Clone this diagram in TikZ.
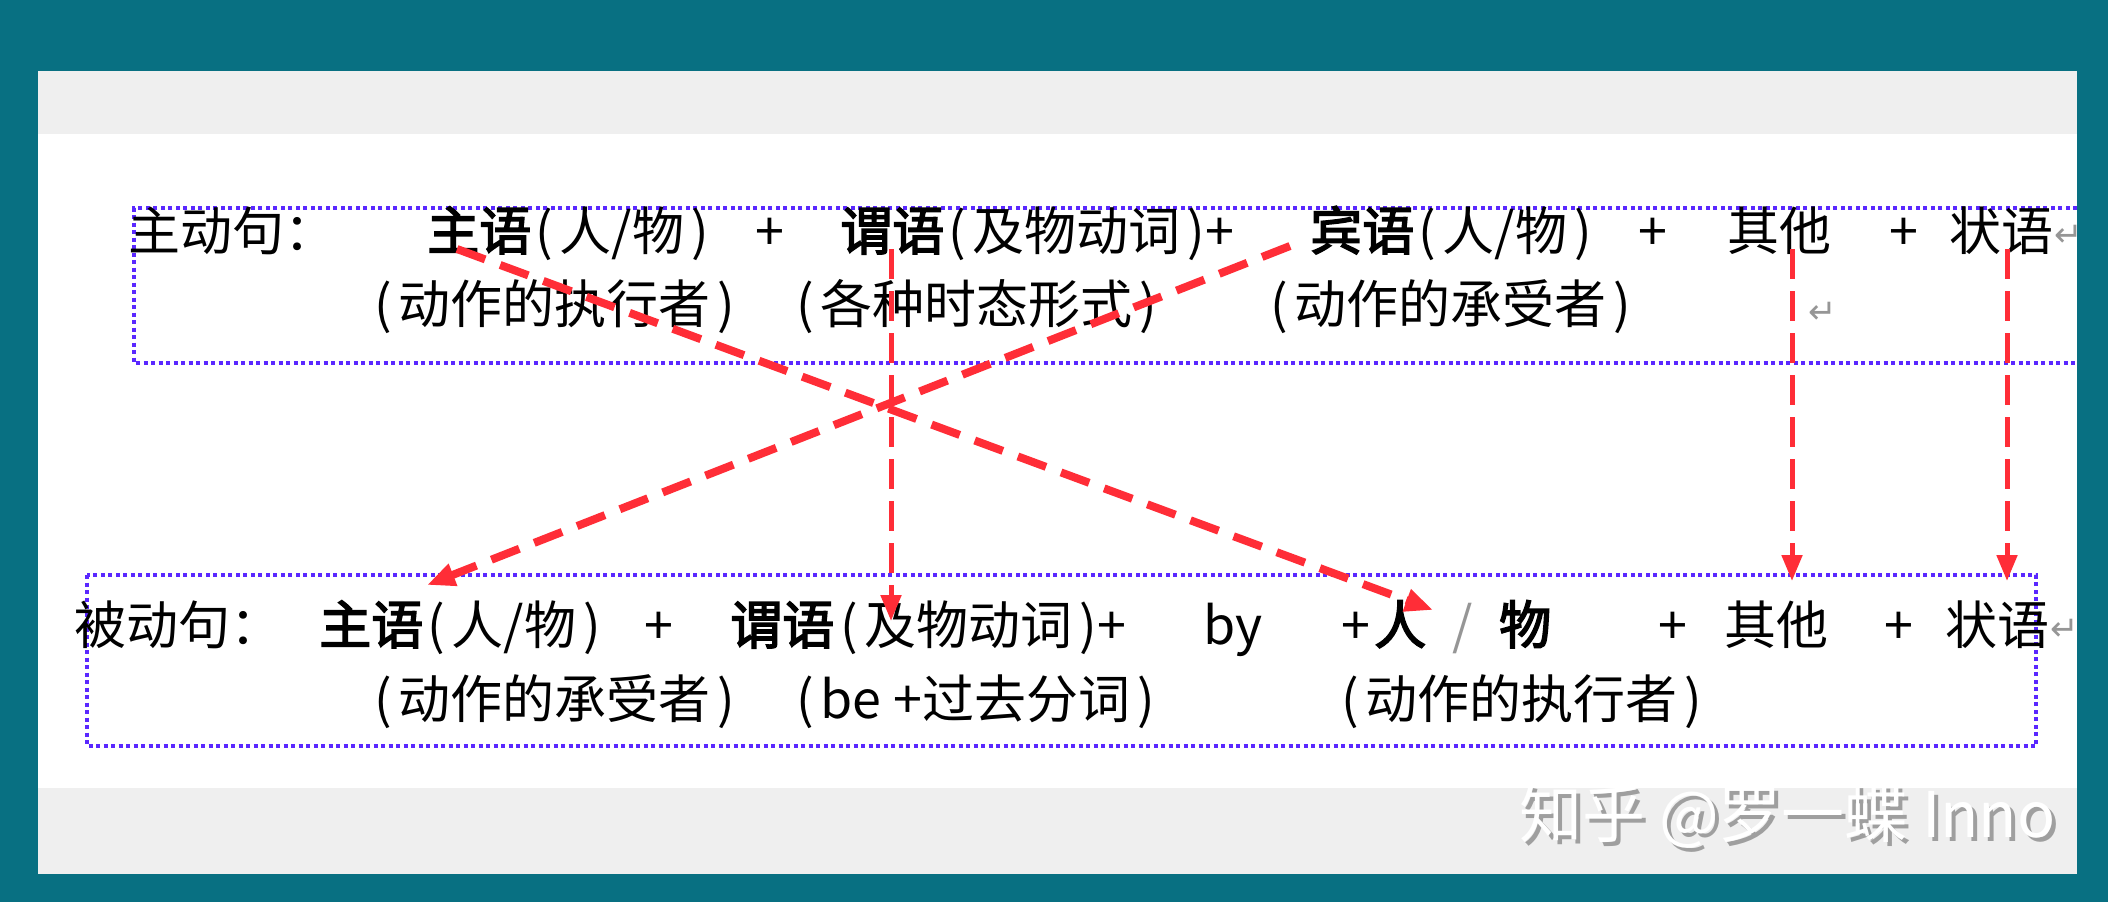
\documentclass[tikz,border=0pt]{standalone}
\usepackage{fontspec}
\setmainfont{Noto Sans CJK SC}[AutoFakeBold=3]
\newfontfamily\symfont{DejaVu Sans}
\usetikzlibrary{arrows.meta}
\definecolor{teal0}{RGB}{8,112,130}
\definecolor{panelgrey}{RGB}{239,239,239}
\definecolor{dotblue}{RGB}{90,40,255}
\definecolor{arrred}{RGB}{255,45,55}
\definecolor{markgrey}{RGB}{150,150,150}
\newcommand{\lpar}{(\kern7pt}
\newcommand{\rpar}{\kern7pt)}
\tikzset{
  txt/.style={anchor=base west, inner sep=0pt, font=\fontsize{52}{62}\selectfont},
  boldtxt/.style={txt, font=\fontsize{52}{62}\selectfont\bfseries},
  plustxt/.style={txt, anchor=base},
  marktxt/.style={anchor=base west, inner sep=0pt, text=markgrey, font=\symfont\fontsize{34}{40}\selectfont},
  dotbox/.style={draw=dotblue, line width=4pt, dash pattern=on 4pt off 3.5pt},
  diag/.style={draw=arrred, line width=8pt, dash pattern=on 30pt off 16pt, -{Triangle[length=28pt,width=22pt]}},
  vert/.style={draw=arrred, line width=5pt, dash pattern=on 30pt off 12pt, -{Triangle[length=26pt,width=20pt]}},
  wm/.style={anchor=west, inner sep=0pt, font=\fontsize{63}{72}\selectfont}
}
\begin{document}
\begin{tikzpicture}[x=1pt,y=-1pt]
\useasboundingbox (0,0) rectangle (2108,902);
\fill[teal0] (0,0) rectangle (2108,902);
\fill[panelgrey] (38,71) rectangle (2077,874);
\fill[white] (38,134) rectangle (2077,788);

% dotted boxes
\draw[dotbox] (2077,208) -- (134,208) -- (134,363) -- (2077,363);
\draw[dotbox] (87,575) rectangle (2036,746);

% active sentence
\node[txt] (a0) at (128,250) {主动句：};
\node[boldtxt] (a1) at (427,250) {主语};
\node[txt] (a2) at (535,250) {\lpar 人/物\rpar};
\node[plustxt] (a3) at (770,250) {+};
\node[boldtxt] (a4) at (840,250) {谓语};
\node[txt] (a5) at (948,250) {\lpar 及物动词\rpar +};
\node[boldtxt] (a6) at (1310,250) {宾语};
\node[txt] (a7) at (1418,250) {\lpar 人/物\rpar};
\node[plustxt] (a8) at (1653,250) {+};
\node[txt] (a9) at (1727,250) {其他};
\node[plustxt] (a10) at (1904,250) {+};
\node[txt] (a11) at (1949,250) {状语};
\node[marktxt] (a12) at (2054,246) {↵};

\node[txt] (b1) at (374,323) {\lpar 动作的执行者\rpar};
\node[txt] (b2) at (796,323) {\lpar 各种时态形式\rpar};
\node[txt] (b3) at (1270,323) {\lpar 动作的承受者\rpar};
\node[marktxt] (b4) at (1808,323) {↵};

% passive sentence
\node[txt] (c0) at (74,644) {被动句：};
\node[boldtxt] (c1) at (319,644) {主语};
\node[txt] (c2) at (427,644) {\lpar 人/物\rpar};
\node[plustxt] (c3) at (659,644) {+};
\node[boldtxt] (c4) at (730,644) {谓语};
\node[txt] (c5) at (840,644) {\lpar 及物动词\rpar +};
\node[txt] (c6) at (1203,644) {by};
\node[txt] (c7) at (1341,644) {+};
\node[boldtxt] (c8) at (1374,644) {人};
\node[txt, text=markgrey] (c9) at (1452,644) {/};
\node[boldtxt] (c10) at (1499,644) {物};
\node[plustxt] (c11) at (1673,644) {+};
\node[txt] (c12) at (1724,644) {其他};
\node[plustxt] (c13) at (1899,644) {+};
\node[txt] (c14) at (1945,644) {状语};
\node[marktxt] (c15) at (2050,640) {↵};

\node[txt] (d1) at (374,718) {\lpar 动作的承受者\rpar};
\node[txt] (d2) at (796,718) {\lpar be +过去分词\rpar};
\node[txt] (d3) at (1341,718) {\lpar 动作的执行者\rpar};

% connectors
\coordinate (s1) at (457,249);  \coordinate (e1) at (1433,610);
\coordinate (s2) at (1290,246); \coordinate (e2) at (427,585);
\coordinate (s3) at (891,249);  \coordinate (e3) at (891,621);
\coordinate (s4) at (1792,249); \coordinate (e4) at (1792,581);
\coordinate (s5) at (2007,249); \coordinate (e5) at (2007,581);
\draw[diag] (s1) -- (e1);
\draw[diag] (s2) -- (e2);
\draw[vert] (s3) -- (e3);
\draw[vert] (s4) -- (e4);
\draw[vert] (s5) -- (e5);

% watermark
\node[wm, text=gray!75] (wms) at (1523,820) {知乎 @罗一蝶 Inno};
\node[wm, text=white] (wm) at (1519,816) {知乎 @罗一蝶 Inno};
\end{tikzpicture}
\end{document}
